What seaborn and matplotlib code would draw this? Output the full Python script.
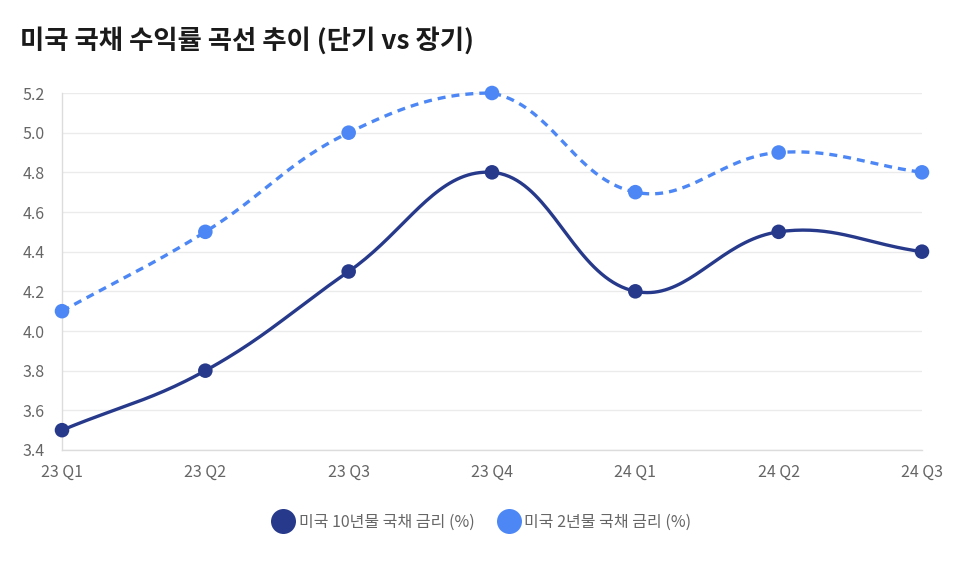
import numpy as np
import pandas as pd
import matplotlib
matplotlib.use("Agg")
import matplotlib.pyplot as plt
import seaborn as sns
from matplotlib.lines import Line2D

quarters = ["23 Q1", "23 Q2", "23 Q3", "23 Q4", "24 Q1", "24 Q2", "24 Q3"]
y10 = [3.5, 3.8, 4.3, 4.8, 4.2, 4.5, 4.4]
y2 = [4.1, 4.5, 5.0, 5.2, 4.7, 4.9, 4.8]
series_names = ["미국 10년물 국채 금리 (%)", "미국 2년물 국채 금리 (%)"]
y_ticks = [3.4, 3.6, 3.8, 4.0, 4.2, 4.4, 4.6, 4.8, 5.0, 5.2]

C10 = "#26398a"
C2 = "#4d87f5"
GRID = "#ebebeb"
TXT = "#666666"

sns.set_theme(style="white")
plt.rcParams['font.family'] = ['Noto Sans CJK KR', 'DejaVu Sans']

W, H = 975, 565
fig = plt.figure(figsize=(W / 100, H / 100), dpi=100)
L, R, T, B = 62, 922, 93, 450
ax = fig.add_axes([L / W, 1 - B / H, (R - L) / W, (B - T) / H])
ymin, ymax = 3.4, 5.2
ax.set_xlim(0, len(quarters) - 1)
ax.set_ylim(ymin, ymax)

sx = (R - L) / (len(quarters) - 1)
sy = (B - T) / (ymax - ymin)


def smooth(xs, ys, tension=0.4, n=40):
    # Chart.js style spline in pixel space, control points capped to the chart area
    px = np.array(xs, float) * sx
    py = np.array(ys, float) * sy
    pts = np.column_stack([px, py])
    m = len(pts)
    cprev = pts.copy()
    cnext = pts.copy()
    for i in range(m):
        p0 = pts[max(i - 1, 0)]
        p1 = pts[i]
        p2 = pts[min(i + 1, m - 1)]
        d01 = np.hypot(*(p1 - p0))
        d12 = np.hypot(*(p2 - p1))
        tot = d01 + d12
        s01 = d01 / tot if tot else 0
        s12 = d12 / tot if tot else 0
        cprev[i] = p1 - tension * s01 * (p2 - p0)
        cnext[i] = p1 + tension * s12 * (p2 - p0)
    lo = np.array([0, ymin * sy]); hi = np.array([(m - 1) * sx, ymax * sy])
    cprev = np.clip(cprev, lo, hi)
    cnext = np.clip(cnext, lo, hi)
    outx, outy = [], []
    t = np.linspace(0, 1, n)[:, None]
    for i in range(m - 1):
        a, b, c, d = pts[i], cnext[i], cprev[i + 1], pts[i + 1]
        seg = ((1 - t) ** 3) * a + 3 * ((1 - t) ** 2) * t * b + 3 * (1 - t) * t ** 2 * c + t ** 3 * d
        outx.append(seg[:, 0]); outy.append(seg[:, 1])
    return np.concatenate(outx) / sx, np.concatenate(outy) / sy


xi = np.arange(len(quarters))
for yy, col, ls in [(y2, C2, (0, (2.4, 1.8))), (y10, C10, "-")]:
    cx, cy = smooth(xi, yy)
    ax.plot(cx, cy, color=col, lw=2.4, linestyle=ls, zorder=3, clip_on=False,
            solid_capstyle="butt", dash_capstyle="butt")

df = pd.DataFrame({"x": np.concatenate([xi, xi]),
                   "y": y10 + y2,
                   "s": [series_names[0]] * len(xi) + [series_names[1]] * len(xi)})
sns.scatterplot(data=df, x="x", y="y", hue="s", palette=[C10, C2], s=110,
                edgecolor="none", ax=ax, legend=False, zorder=4, clip_on=False)

ax.set_xticks(xi)
ax.set_xticklabels(quarters)
ax.set_yticks(y_ticks)
ax.set_yticklabels([f"{v:.1f}" for v in y_ticks])
ax.set_xlabel("")
ax.set_ylabel("")
ax.grid(axis="y", color=GRID, lw=1)
ax.grid(axis="x", visible=False)
ax.tick_params(axis="y", length=9, color=GRID, labelcolor=TXT, labelsize=11.5, pad=3.5, width=1)
ax.tick_params(axis="x", length=0, labelcolor=TXT, labelsize=11.5, pad=10)
for sp in ["top", "right"]:
    ax.spines[sp].set_visible(False)
ax.spines["left"].set_color("#dcdcdc")
ax.spines["bottom"].set_color("#dcdcdc")
ax.spines["left"].set_linewidth(1)
ax.spines["bottom"].set_linewidth(1)

fig.text(20 / W, 1 - 41 / H, "미국 국채 수익률 곡선 추이 (단기 vs 장기)", fontsize=19,
         fontweight="bold", color="#1a1a1a", ha="left", va="center")

handles = [Line2D([0], [0], marker="o", color="none", markerfacecolor=c, markeredgecolor="none",
                  markersize=18) for c in [C10, C2]]
fig.legend(handles, series_names, loc="center", bbox_to_anchor=(482 / W, 1 - 522 / H),
           ncol=2, frameon=False, fontsize=11.5, labelcolor=TXT, handletextpad=0.3,
           columnspacing=1.5, handlelength=1.3)

fig.savefig("out.png", dpi=100, facecolor="white")
